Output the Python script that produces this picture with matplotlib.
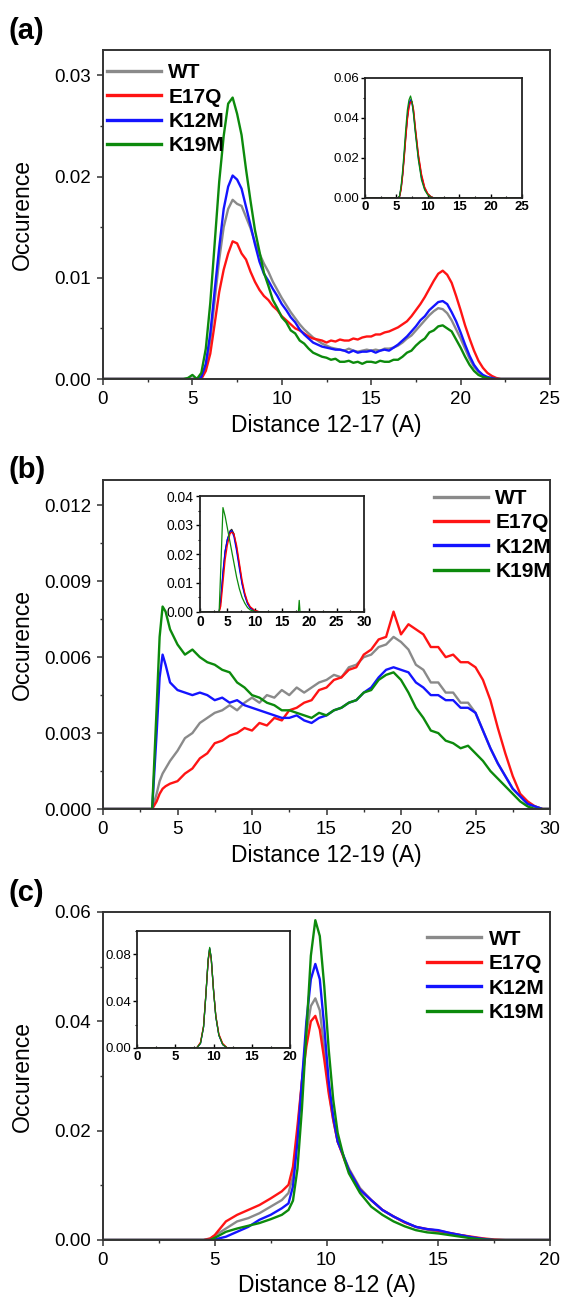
import numpy as np
import matplotlib
matplotlib.use("Agg")
import matplotlib.pyplot as plt
from matplotlib.ticker import MultipleLocator, FormatStrFormatter

plt.rcParams['font.family'] = ['Liberation Sans', 'DejaVu Sans']

labels = ['WT', 'E17Q', 'K12M', 'K19M']
colors = ['#8a8a8a', '#ff1414', '#1414ff', '#0c8a0c']
inset_colors = ['#222222', '#0000ff', '#ff0000', '#0c8a0c']  # drawing order in insets: WT, K12M, E17Q, K19M

# ---- panel (a): distance 12-17, values x1e-4 ----
a_x = [0, 4.5, 4.75, 5.0, 5.25, 5.5, 5.75, 6.0, 6.25, 6.5, 6.75, 7.0, 7.25, 7.5, 7.75, 8.0, 8.25, 8.5, 8.75,
       9.0, 9.25, 9.5, 9.75, 10.0, 10.25, 10.5, 10.75, 11.0, 11.25, 11.5, 11.75, 12.0, 12.25, 12.5, 12.75,
       13.0, 13.25, 13.5, 13.75, 14.0, 14.25, 14.5, 14.75, 15.0, 15.25, 15.5, 15.75, 16.0, 16.25, 16.5, 16.75,
       17.0, 17.25, 17.5, 17.75, 18.0, 18.25, 18.5, 18.75, 19.0, 19.25, 19.5, 19.75, 20.0, 20.25, 20.5, 20.75,
       21.0, 21.25, 21.5, 21.75, 22.0, 22.25, 22.5, 25]
a_wt = [0, 0, 0, 0, 0, 2, 12, 38, 78, 118, 150,
        168, 177, 173, 171, 160, 149, 135, 124, 114, 106,
        96, 88, 80, 73, 66, 60, 54, 49, 45, 41,
        38, 35, 33, 31, 30, 29, 28, 30, 28, 27,
        28, 29, 28, 29, 28, 30, 30, 31, 33, 36,
        40, 43, 48, 53, 58, 63, 67, 70, 69, 65,
        58, 49, 40, 30, 20, 12, 7, 3, 1, 0,
        0, 0, 0, 0]
a_e17q = [0, 0, 0, 0, 0, 0, 8, 25, 55, 86, 108,
          124, 136, 134, 124, 118, 106, 96, 88, 82, 78,
          72, 68, 62, 58, 54, 50, 48, 45, 42, 40,
          39, 38, 36, 38, 37, 39, 38, 38, 40, 39,
          41, 42, 42, 44, 44, 46, 47, 49, 51, 54,
          57, 62, 68, 74, 81, 89, 97, 104, 107, 103,
          95, 82, 68, 53, 40, 28, 18, 11, 6, 3,
          1, 0, 0, 0]
a_k12m = [0, 0, 0, 0, 0, 2, 15, 45, 88, 130, 168,
          190, 201, 197, 188, 170, 152, 133, 116, 104, 97,
          89, 82, 74, 68, 61, 56, 49, 44, 40, 36,
          34, 32, 31, 30, 29, 29, 28, 26, 28, 26,
          27, 27, 28, 26, 28, 29, 28, 31, 34, 38,
          42, 47, 52, 58, 62, 68, 72, 76, 77, 74,
          66, 57, 46, 34, 23, 14, 8, 4, 2, 1,
          0, 0, 0, 0]
a_k19m = [0, 0, 1, 4, 0, 6, 30, 75, 135, 195, 240,
          272, 278, 262, 241, 207, 176, 147, 126, 105, 92,
          78, 70, 61, 56, 48, 45, 38, 35, 30, 26,
          24, 22, 21, 19, 20, 17, 17, 18, 16, 17,
          15, 17, 17, 16, 18, 17, 17, 19, 19, 22,
          26, 28, 33, 37, 40, 46, 48, 52, 53, 50,
          47, 39, 31, 22, 14, 8, 4, 2, 1, 0,
          0, 0, 0, 0]

# inset (a), values x1e-3
ia_x = [0, 5.25, 5.5, 5.75, 6.0, 6.25, 6.5, 6.75, 7.0, 7.25, 7.5, 7.75, 8.0, 8.5, 9.0, 9.5, 10.0, 10.5, 11.0, 25]
ia_wt = [0, 0, 0.8, 5, 12, 21, 31, 40, 46, 49, 48, 43, 35, 21, 11, 5, 2, 0.6, 0, 0]
ia_e17q = [0, 0, 0.6, 4, 11, 20, 30, 39, 45, 48, 48, 44, 36, 22, 12, 5.5, 2.2, 0.7, 0, 0]
ia_k12m = [0, 0, 0.8, 5, 12, 22, 32, 41, 47, 49, 47, 42, 34, 20, 10, 4.5, 1.8, 0.5, 0, 0]
ia_k19m = [0, 0, 1, 6, 14, 24, 35, 44, 49, 51, 48, 41, 33, 19, 9, 4, 1.5, 0.4, 0, 0]

# ---- panel (b): distance 12-19, values x1e-4 ----
b_x = [0, 3.3, 3.6, 3.8, 4.0, 4.2, 4.5, 5.0, 5.5, 6.0,
       6.5, 7.0, 7.5, 8.0, 8.5, 9.0, 9.5, 10.0, 10.5, 11.0,
       11.5, 12.0, 12.5, 13.0, 13.5, 14.0, 14.5, 15.0, 15.5, 16.0,
       16.5, 17.0, 17.5, 18.0, 18.5, 19.0, 19.5, 20.0, 20.5, 21.0,
       21.5, 22.0, 22.5, 23.0, 23.5, 24.0, 24.5, 25.0, 25.5, 26.0,
       26.5, 27.0, 27.5, 28.0, 28.5, 29.0, 29.5, 30]
b_wt = [0, 0, 6, 11, 14, 16, 19, 23, 28, 30,
        34, 36, 38, 39, 41, 39, 42, 44, 42, 45,
        44, 47, 45, 48, 46, 48, 50, 51, 53, 52,
        56, 57, 60, 61, 64, 65, 68, 66, 63, 57,
        55, 50, 50, 46, 46, 42, 42, 38, 31, 24,
        18, 13, 8, 5, 2, 1, 0, 0]
b_e17q = [0, 0, 3, 6, 8, 9, 10, 11, 14, 16,
          20, 22, 26, 27, 29, 30, 32, 31, 34, 33,
          36, 35, 39, 40, 42, 43, 47, 48, 51, 52,
          55, 56, 61, 63, 67, 68, 78, 69, 73, 71,
          69, 64, 64, 60, 61, 58, 58, 56, 51, 43,
          32, 22, 13, 6, 3, 1, 0, 0]
b_k12m = [0, 0, 30, 52, 61, 57, 50, 47, 46, 45,
          46, 45, 43, 44, 42, 43, 41, 40, 39, 38,
          37, 36, 36, 37, 35, 34, 36, 37, 39, 40,
          42, 43, 46, 48, 52, 55, 56, 55, 54, 50,
          48, 45, 45, 43, 43, 40, 40, 38, 31, 24,
          18, 13, 8, 5, 2, 1, 0, 0]
b_k19m = [0, 0, 40, 68, 80, 78, 71, 65, 61, 63,
          60, 58, 57, 55, 54, 50, 48, 45, 44, 42,
          41, 39, 39, 38, 37, 36, 38, 37, 39, 40,
          42, 43, 46, 47, 51, 53, 54, 51, 46, 40,
          36, 31, 30, 27, 26, 24, 25, 22, 19, 15,
          12, 9, 6, 3, 1, 0, 0, 0]

# inset (b), values x1e-3
ib_x = [0, 3.5, 3.8, 4.2, 4.6, 5.0, 5.5, 5.8, 6.2, 6.7, 7.2, 7.7, 8.2, 8.7, 9.2, 10.0, 11.0, 18.0, 18.15, 18.3, 30]
ib_wt = [0, 0, 4, 13, 21, 25, 28, 28.5, 27, 22, 16, 10, 6, 3, 1.5, 0.4, 0, 0, 0, 0, 0]
ib_e17q = [0, 0, 2, 10, 18, 23, 27, 27.5, 27, 23, 17, 11, 6.5, 3.5, 1.8, 0.6, 0, 0, 0, 0, 0]
ib_k12m = [0, 0, 4, 14, 21, 25, 27.5, 28, 26, 21, 15, 9.5, 5.5, 2.8, 1.3, 0.4, 0, 0, 0, 0, 0]
ib_k19m = [0, 0, 15, 36, 33, 29, 24, 21, 17, 12, 8, 5, 3, 1.5, 0.7, 0.2, 0, 0, 4, 0, 0]

# ---- panel (c): distance 8-12, values x1e-4 ----
c_x = [0, 4.5, 4.8, 5.0, 5.5, 6.0, 6.5, 7.0, 7.5, 8.0,
       8.3, 8.5, 8.7, 8.9, 9.1, 9.3, 9.5, 9.7, 9.9, 10.1,
       10.3, 10.5, 10.8, 11.0, 11.5, 12.0, 12.5, 13.0, 13.5, 14.0,
       14.5, 15.0, 15.5, 16.0, 16.5, 17.0, 17.5, 18.0, 20.0]
c_wt = [0, 0, 2, 8, 21, 34, 40, 49, 61, 73,
        86, 116, 196, 290, 379, 428, 442, 420, 350, 275,
        220, 180, 150, 131, 95, 73, 55, 43, 32, 24,
        19, 15, 12, 9, 5, 2, 0, 0, 0]
c_e17q = [0, 0, 3, 9, 34, 46, 55, 64, 76, 89,
          101, 134, 208, 290, 354, 400, 410, 385, 330, 268,
          220, 180, 147, 128, 92, 73, 55, 43, 32, 24,
          20, 17, 13, 9, 6, 3, 1, 0, 0]
c_k12m = [0, 0, 0, 1, 6, 15, 24, 37, 46, 58,
          67, 98, 180, 290, 400, 477, 505, 477, 390, 290,
          226, 180, 150, 128, 92, 73, 55, 43, 33, 24,
          20, 18, 13, 9, 5, 2, 0, 0, 0]
c_k19m = [0, 0, 0, 4, 15, 21, 26, 31, 38, 46,
          55, 72, 130, 240, 380, 520, 585, 556, 464, 348,
          257, 196, 147, 122, 86, 61, 46, 34, 25, 18,
          14, 12, 9, 6, 3, 1, 0, 0, 0]

# inset (c), values x1e-3
ic_x = [0, 7.8, 8.3, 8.7, 9.0, 9.3, 9.5, 9.7, 10.0, 10.3, 10.7, 11.2, 11.8, 20]
ic_wt = [0, 0, 4, 18, 45, 75, 85, 77, 50, 27, 11, 3, 0, 0]
ic_e17q = [0, 0, 5, 19, 46, 74, 84, 76, 50, 28, 12, 4, 0, 0]
ic_k12m = [0, 0, 4, 18, 45, 75, 85, 77, 50, 27, 11, 3, 0, 0]
ic_k19m = [0, 0, 4, 18, 45, 76, 86, 77, 49, 27, 11, 3, 0, 0]

W, H = 563.0, 1297.0
fig = plt.figure(figsize=(5.63, 12.97), dpi=100)


def box(l, t, r, b):
    return [l / W, 1 - b / H, (r - l) / W, (b - t) / H]


def main_panel(rect, x, series, xmax, ymax, ymaj, ymin, yfmt, xlabel, leg_anchor):
    ax = fig.add_axes(box(*rect))
    for s, c, lab in zip(series, colors, labels):
        ax.plot(x, np.array(s) * 1e-4, color=c, lw=1.7, label=lab)
    ax.set_xlim(0, xmax)
    ax.set_ylim(0, ymax)
    ax.xaxis.set_major_locator(MultipleLocator(5))
    ax.xaxis.set_minor_locator(MultipleLocator(2.5))
    ax.yaxis.set_major_locator(MultipleLocator(ymaj))
    ax.yaxis.set_minor_locator(MultipleLocator(ymin))
    ax.yaxis.set_major_formatter(FormatStrFormatter(yfmt))
    ax.tick_params(which='major', direction='out', length=4.5, width=1.1, pad=4, labelsize=13.5, color='#333333')
    ax.tick_params(which='minor', direction='out', length=2.5, width=1.0, color='#333333')
    for sp in ax.spines.values():
        sp.set_linewidth(1.4)
        sp.set_color('#333333')
    ax.set_xlabel(xlabel, fontsize=16.5)
    ax.set_ylabel('Occurence', fontsize=16.5)
    ax.xaxis.set_label_coords(0.5, -0.105)
    ax.yaxis.set_label_coords(-0.155, 0.5)
    leg = ax.legend(loc='upper left', bbox_to_anchor=leg_anchor, frameon=False, borderpad=0,
                    borderaxespad=0, handlelength=2.6, handletextpad=0.35, labelspacing=0.26,
                    prop={'weight': 'bold', 'size': 15})
    for ln in leg.get_lines():
        ln.set_linewidth(2.4)
    return ax


def inset(rect, x, series, xmax, xstep, ymax, ymaj, ymin, yfmt, fs):
    ax = fig.add_axes(box(*rect))
    for s, c in zip(series, inset_colors):
        ax.plot(x, np.array(s) * 1e-3, color=c, lw=0.9)
    ax.set_xlim(0, xmax)
    ax.set_ylim(0, ymax)
    ax.xaxis.set_major_locator(MultipleLocator(xstep))
    ax.xaxis.set_minor_locator(MultipleLocator(xstep / 2))
    ax.yaxis.set_major_locator(MultipleLocator(ymaj))
    ax.yaxis.set_minor_locator(MultipleLocator(ymin))
    ax.yaxis.set_major_formatter(FormatStrFormatter(yfmt))
    ax.tick_params(axis='y', which='major', direction='out', length=3, width=1, pad=1.5, labelsize=fs)
    ax.tick_params(axis='y', which='minor', direction='out', length=1.8, width=0.8)
    ax.tick_params(axis='x', which='major', direction='in', length=3, width=1, pad=2.5, labelsize=fs)
    ax.tick_params(axis='x', which='minor', direction='in', length=1.8, width=0.8)
    for t in ax.get_xticklabels():
        t.set_fontweight('bold')
    for sp in ax.spines.values():
        sp.set_linewidth(1.3)
        sp.set_color('#222222')
    return ax


# panel (a)
main_panel((103, 50, 550, 379), a_x, [a_wt, a_e17q, a_k12m, a_k19m], 25, 0.0325, 0.01, 0.005, '%.2f',
           'Distance 12-17 (A)', (0.009, 0.96))
inset((365, 78, 522, 198), ia_x, [ia_wt, ia_k12m, ia_e17q, ia_k19m], 25, 5, 0.06, 0.02, 0.01, '%.2f', 9.5)

# panel (b)
main_panel((103, 480, 550, 809), b_x, [b_wt, b_e17q, b_k12m, b_k19m], 30, 0.013, 0.003, 0.0015, '%.3f',
           'Distance 12-19 (A)', (0.74, 0.973))
inset((200, 496, 364, 612), ib_x, [ib_wt, ib_k12m, ib_e17q, ib_k19m], 30, 5, 0.04, 0.01, 0.005, '%.2f', 10)

# panel (c)
main_panel((103, 912, 550, 1240), c_x, [c_wt, c_e17q, c_k12m, c_k19m], 20, 0.06, 0.02, 0.01, '%.2f',
           'Distance 8-12 (A)', (0.725, 0.946))
inset((137, 931, 290, 1048), ic_x, [ic_wt, ic_k12m, ic_e17q, ic_k19m], 20, 5, 0.1, 0.04, 0.02, '%.2f', 9.5)

# panel letters
for lab, y in [('(a)', 31), ('(b)', 470), ('(c)', 893)]:
    fig.text(8 / W, 1 - y / H, lab, fontsize=21, fontweight='bold', ha='left', va='center')

fig.savefig('out.png', dpi=100)
